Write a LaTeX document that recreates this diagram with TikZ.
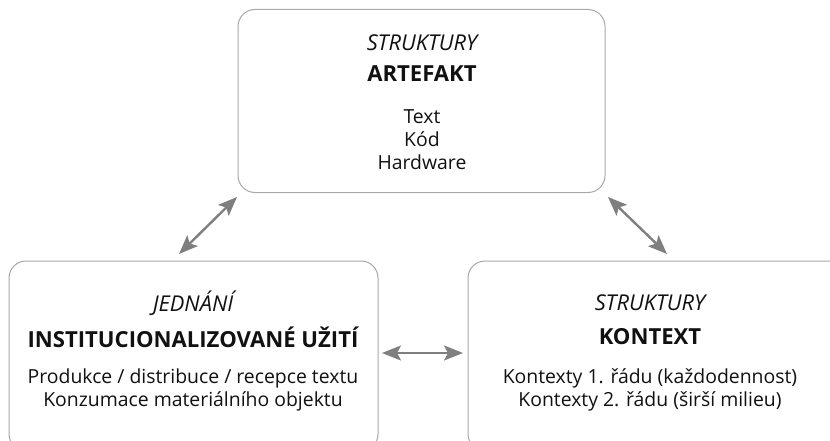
\documentclass[tikz,border=0pt]{standalone}
\usepackage{fontspec}
\setmainfont{Open Sans}
\usetikzlibrary{arrows.meta}
\definecolor{boxline}{HTML}{A8A8A8}
\definecolor{arrowgray}{HTML}{7F7F7F}
\definecolor{txt}{HTML}{111111}
\tikzset{
  panel/.style={draw=boxline, line width=1pt, rounded corners=17pt, inner sep=0pt},
  ital/.style={font=\fontsize{21.8}{24}\selectfont\itshape, text=txt, inner sep=0pt},
  head/.style={font=\fontsize{22.1}{26}\selectfont\bfseries, text=txt, inner sep=0pt},
  body/.style={font=\fontsize{19.4}{23}\selectfont, text=txt, align=center, inner sep=0pt},
  link/.style={draw=arrowgray, line width=2.4pt, {Stealth[length=19pt,width=15pt,inset=4pt]}-{Stealth[length=19pt,width=15pt,inset=4pt]}}
}
\begin{document}
\begin{tikzpicture}[x=1pt,y=-1pt]
\useasboundingbox (0,0) rectangle (830,441);
% boxes
\node[panel, minimum width=367pt, minimum height=183pt] (top) at (421.5,101) {};
\node[panel, minimum width=369pt, minimum height=190pt] (left) at (193.5,356) {};
\node[panel, minimum width=378pt, minimum height=190pt] (right) at (657,356) {};
% top texts
\node[ital] (t1) at (422,43) {STRUKTURY};
\node[head] (t2) at (422,74) {ARTEFAKT};
\node[body] (t3) at (422,140) {Text\\Kód\\Hardware};
% left texts
\node[ital] (l1) at (193,303) {JEDNÁNÍ};
\node[head] (l2) at (193,337) {INSTITUCIONALIZOVANÉ UŽITÍ};
\node[body] (l3) at (193,390) {Produkce / distribuce / recepce textu\\Konzumace materiálního objektu};
% right texts
\node[ital] (r1) at (650,303) {STRUKTURY};
\node[head] (r2) at (650,337) {KONTEXT};
\node[body] (r3) at (650,390) {Kontexty 1. řádu (každodennost)\\Kontexty 2. řádu (širší milieu)};
% connectors
\coordinate (a1) at (179,254);
\coordinate (a2) at (237,197);
\coordinate (b1) at (608,197);
\coordinate (b2) at (667,254);
\coordinate (c1) at (382,353);
\coordinate (c2) at (463,353);
\draw[link] (a1) -- (a2);
\draw[link] (b1) -- (b2);
\draw[link] (c1) -- (c2);
\end{tikzpicture}
\end{document}
